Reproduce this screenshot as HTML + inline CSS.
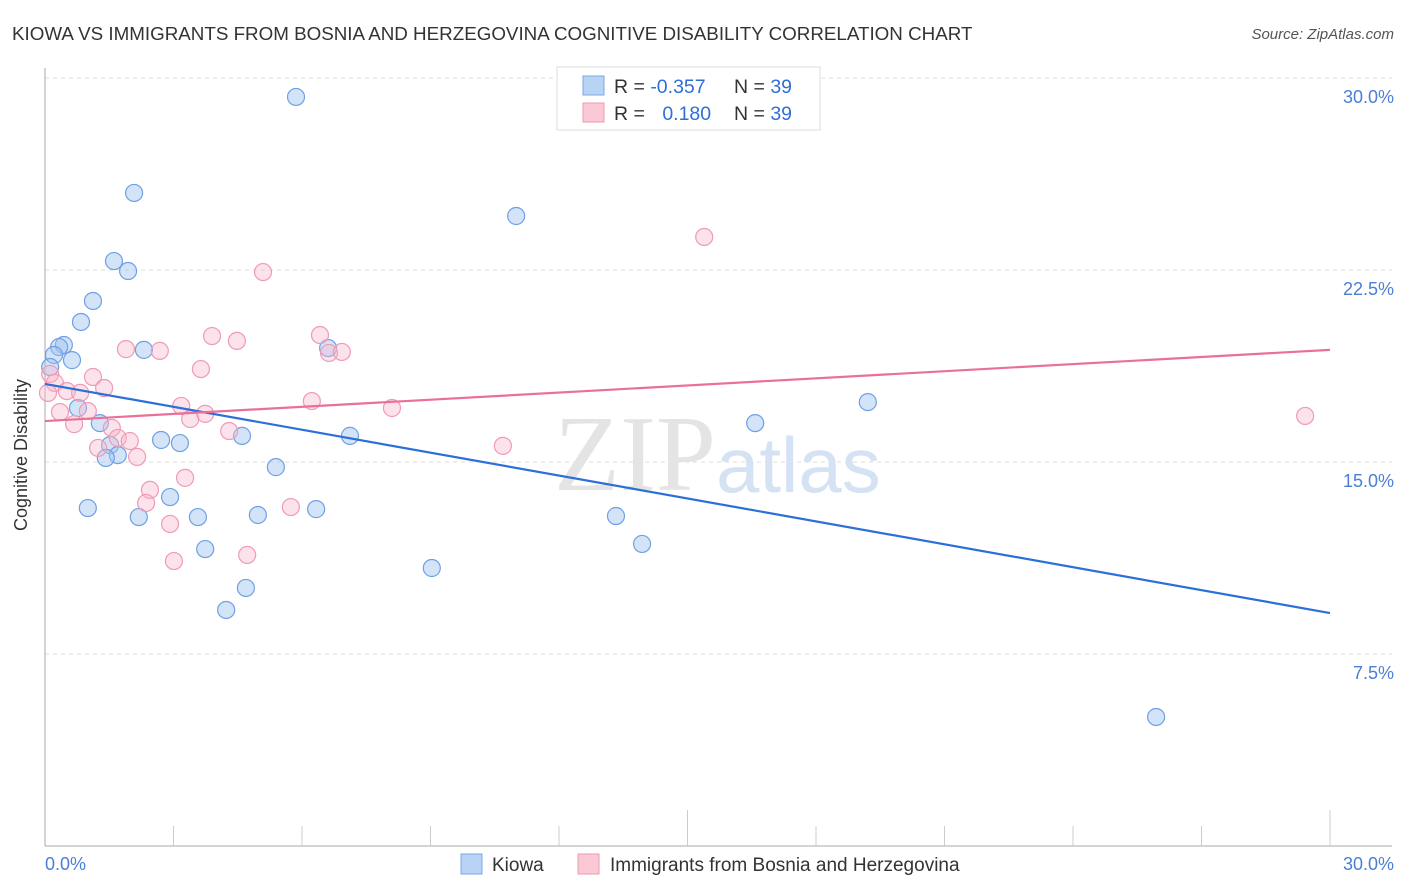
<!DOCTYPE html>
<html><head><meta charset="utf-8">
<style>
body{margin:0;background:#fff;font-family:"Liberation Sans",sans-serif;}
#wrap{position:relative;width:1406px;height:892px;overflow:hidden;}
svg{position:absolute;left:0;top:0;}
</style></head>
<body>
<div id="wrap">
<svg id="chart" width="1406" height="892">
  <text x="12" y="40" font-size="18.8" fill="#333">KIOWA VS IMMIGRANTS FROM BOSNIA AND HERZEGOVINA COGNITIVE DISABILITY CORRELATION CHART</text>
  <text x="1394" y="39" font-size="15" fill="#555" font-style="italic" text-anchor="end">Source: ZipAtlas.com</text>
  <g id="grid"></g>
  <text x="716" y="490" font-size="108" fill="#e4e4e4" text-anchor="end" font-family="Liberation Serif, serif">ZIP</text>
  <text x="716" y="492" font-size="78" fill="#d4e2f3">atlas</text>
  <g id="axes"></g>
  <g id="points"></g>
  <g id="trends"></g>
  <text x="27" y="455" font-size="18" fill="#333" text-anchor="middle" transform="rotate(-90 27 455)">Cognitive Disability</text>
  <text x="45" y="870" font-size="18" fill="#4a7fd4">0.0%</text>
  <text x="1394" y="870" font-size="18" fill="#4a7fd4" text-anchor="end">30.0%</text>
  <g>
    <rect x="557" y="67" width="263" height="63" fill="#fff" stroke="#ddd"/>
    <rect x="583" y="76" width="21" height="19" fill="#b8d3f3" stroke="#7aa8e6"/>
    <rect x="583" y="103" width="21" height="19" fill="#fbc8d6" stroke="#ee9ab3"/>
    <text x="614" y="93" font-size="19.5" fill="#333">R = <tspan fill="#2f6fd6">-0.357</tspan></text>
    <text x="734" y="93" font-size="19.5" fill="#333">N = <tspan fill="#2f6fd6">39</tspan></text>
    <text x="614" y="120" font-size="19.5" fill="#333">R = <tspan fill="#2f6fd6" dx="12">0.180</tspan></text>
    <text x="734" y="120" font-size="19.5" fill="#333">N = <tspan fill="#2f6fd6">39</tspan></text>
  </g>
  <g>
    <rect x="461" y="854" width="21" height="20" fill="#b8d3f3" stroke="#7aa8e6"/>
    <text x="492" y="871" font-size="19" fill="#333">Kiowa</text>
    <rect x="578" y="854" width="21" height="20" fill="#fbc8d6" stroke="#ee9ab3"/>
    <text x="610" y="871" font-size="19" fill="#333">Immigrants from Bosnia and Herzegovina</text>
  </g>
</svg>
</div>
<script>
const yTicks=[7.5,15,22.5,30];
const yTickLabels=["7.5%","15.0%","22.5%","30.0%"];
const kiowaX=[5.86,2.08,11.0,1.61,1.94,1.12,0.84,0.44,0.33,0.21,0.63,2.31,0.12,6.61,0.77,1.28,1.52,1.70,1.42,2.71,3.15,4.60,7.12,5.39,19.21,16.58,1.00,2.19,2.92,3.57,4.97,6.33,3.74,4.69,4.23,9.03,13.33,13.94,25.94];
const kiowaY=[29.26,25.51,24.61,22.85,22.46,21.29,20.47,19.57,19.49,19.18,18.98,19.38,18.71,19.45,17.11,16.52,15.66,15.27,15.16,15.86,15.74,16.02,16.02,14.80,17.34,16.52,13.20,12.85,13.63,12.85,12.93,13.16,11.60,10.08,9.22,10.86,12.89,11.80,5.04];
const bosniaX=[15.39,5.09,6.42,3.90,4.48,1.89,2.68,6.63,6.93,3.64,1.12,0.12,0.23,1.38,0.51,0.82,0.07,6.23,3.18,8.10,0.35,1.00,3.74,3.39,0.68,1.56,4.30,1.70,1.98,1.24,10.69,2.15,2.45,2.36,3.27,5.74,2.92,4.72,3.01,29.42];
const bosniaY=[23.79,22.42,19.96,19.92,19.73,19.41,19.34,19.26,19.30,18.63,18.32,18.44,18.09,17.89,17.77,17.70,17.70,17.38,17.19,17.11,16.95,16.99,16.88,16.68,16.48,16.33,16.21,15.94,15.82,15.55,15.63,15.20,13.91,13.40,14.38,13.24,12.58,11.37,11.13,16.80];
const kiowaTrend=[18.05,9.10];
const bosniaTrend=[16.6,19.38];
const trendX=[0,30];

const NS="http://www.w3.org/2000/svg";
const X0=45,X1=1330,Y0=846,Y1=78;
function sx(v){return X0+(v/30)*(X1-X0);}
function sy(v){return Y0-(v/30)*(Y0-Y1);}
function mk(tag,attrs,parent){const e=document.createElementNS(NS,tag);for(const k in attrs)e.setAttribute(k,attrs[k]);parent.appendChild(e);return e;}

const grid=document.getElementById('grid');
yTicks.forEach((t,i)=>{
  const l=mk('line',{x1:X0,x2:1392,y1:sy(t),y2:sy(t),stroke:'#ddd','stroke-dasharray':'4,4'},grid);
  
  
  const tx=mk('text',{x:1394,y:sy(t)+25,'font-size':18,fill:'#4a7fd4','text-anchor':'end'},grid);
  tx.textContent=yTickLabels[i];
  
  
});
const axes=document.getElementById('axes');
const ya=mk('line',{x1:X0,x2:X0,y1:68,y2:Y0,stroke:'#aaa'},axes);


const xa=mk('line',{x1:X0,x2:1392,y1:Y0,y2:Y0,stroke:'#aaa'},axes);


for(let i=1;i<=10;i++){
  const v=i*3;const tall=(i===5||i===10);
  const t=mk('line',{x1:sx(v),x2:sx(v),y1:tall?810:826,y2:Y0,stroke:'#ccc'},axes);
  
  
}
const pts=document.getElementById('points');
kiowaX.forEach((x,i)=>{
  const c=mk('circle',{cx:sx(x),cy:sy(kiowaY[i]),r:8.5,fill:'rgba(160,196,240,0.45)',stroke:'#6fa0e4','stroke-width':1.2},pts);
  
  
});
bosniaX.forEach((x,i)=>{
  const c=mk('circle',{cx:sx(x),cy:sy(bosniaY[i]),r:8.5,fill:'rgba(247,182,202,0.4)',stroke:'#f09ab5','stroke-width':1.2},pts);
  
  
});
const tr=document.getElementById('trends');
const l1=mk('line',{x1:sx(trendX[0]),y1:sy(kiowaTrend[0]),x2:sx(trendX[1]),y2:sy(kiowaTrend[1]),stroke:'#2b6fd8','stroke-width':2.2},tr);


const l2=mk('line',{x1:sx(trendX[0]),y1:sy(bosniaTrend[0]),x2:sx(trendX[1]),y2:sy(bosniaTrend[1]),stroke:'#e8709a','stroke-width':2.2},tr);


</script>
</body></html>
